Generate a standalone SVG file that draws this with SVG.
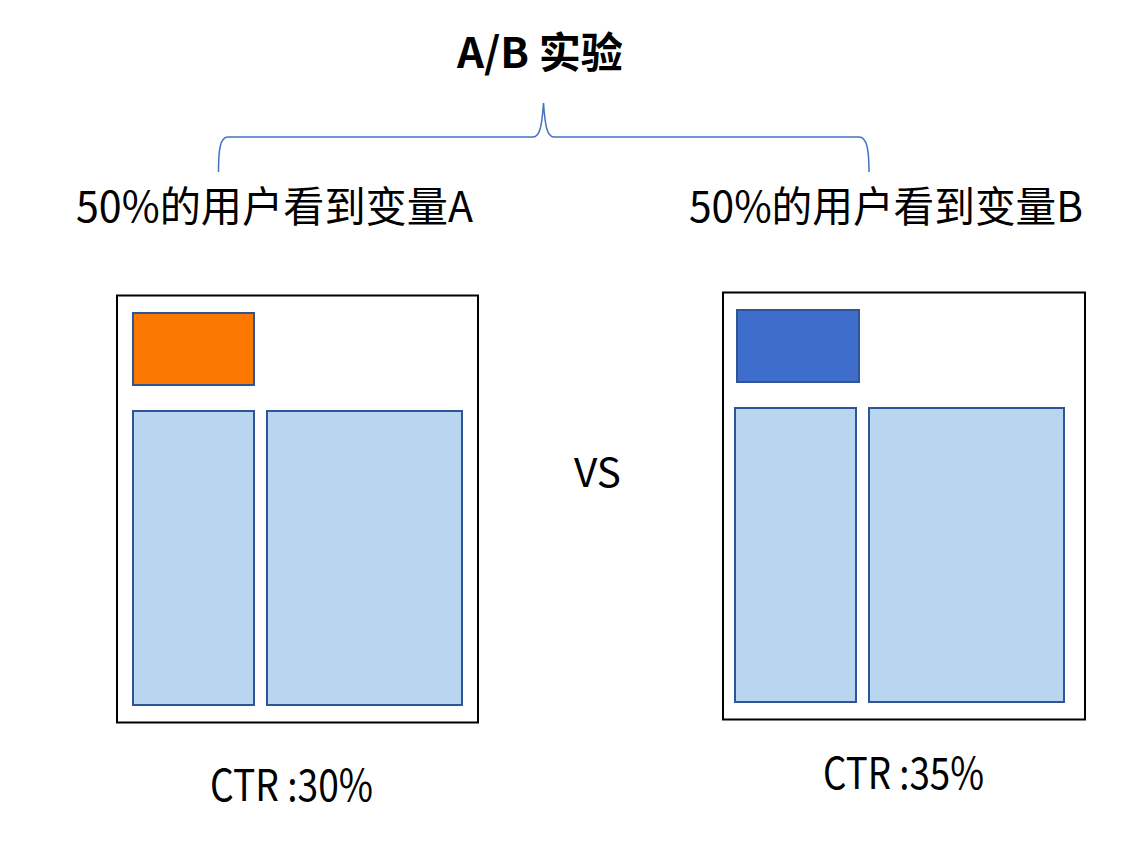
<svg xmlns="http://www.w3.org/2000/svg" width="1142" height="846" viewBox="0 0 1142 846">
<style>
  text { font-family: "Noto Sans CJK SC", "Noto Sans", sans-serif; fill: #000; }
  .title { font-size: 42px; font-weight: bold; }
  .label { font-size: 42px; }
  .ctr { font-size: 43px; }
  .vs { font-size: 40px; }
  .frame { fill: #fff; stroke: #000; stroke-width: 2; }
  .block { stroke: #2F5597; stroke-width: 2; }
  .light { fill: #B9D6F0; }
  .brace { fill: none; stroke: #4472C4; stroke-width: 1.5; }
</style>
<rect width="1142" height="846" fill="#fff"/>
<g id="title"><text class="title" x="540" y="68" text-anchor="middle" textLength="166" lengthAdjust="spacingAndGlyphs">A/B 实验</text></g>
<g id="connectors">
  <path class="brace" d="M218.5,172 C218.5,150 220,137 228,137 L533,137 C540,137 542,125 543.5,103 C545,125 547,137 554,137 L859,137 C867,137 869,150 869,172"/>
</g>
<g id="labelA"><text class="label" x="76" y="222" textLength="397" lengthAdjust="spacingAndGlyphs">50%的用户看到变量A</text></g>
<g id="labelB"><text class="label" x="689" y="222" textLength="394" lengthAdjust="spacingAndGlyphs">50%的用户看到变量B</text></g>
<g id="variantA">
  <rect class="frame" x="117" y="295.5" width="361" height="427"/>
  <rect class="block" fill="#FB7900" x="133" y="313" width="121" height="72"/>
  <rect class="block light" x="133" y="411" width="121" height="294"/>
  <rect class="block light" x="267" y="411" width="195" height="294"/>
</g>
<g id="variantB">
  <rect class="frame" x="723" y="292.5" width="362" height="427"/>
  <rect class="block" fill="#3F6DCB" x="737" y="310" width="122" height="72"/>
  <rect class="block light" x="735" y="408" width="121" height="294"/>
  <rect class="block light" x="869" y="408" width="195" height="294"/>
</g>
<g id="vs"><text class="vs" x="574" y="487" textLength="47" lengthAdjust="spacingAndGlyphs">VS</text></g>
<g id="ctrA"><text class="ctr" x="210" y="801" textLength="163" lengthAdjust="spacingAndGlyphs">CTR :30%</text></g>
<g id="ctrB"><text class="ctr" x="823" y="789" textLength="161" lengthAdjust="spacingAndGlyphs">CTR :35%</text></g>
</svg>
